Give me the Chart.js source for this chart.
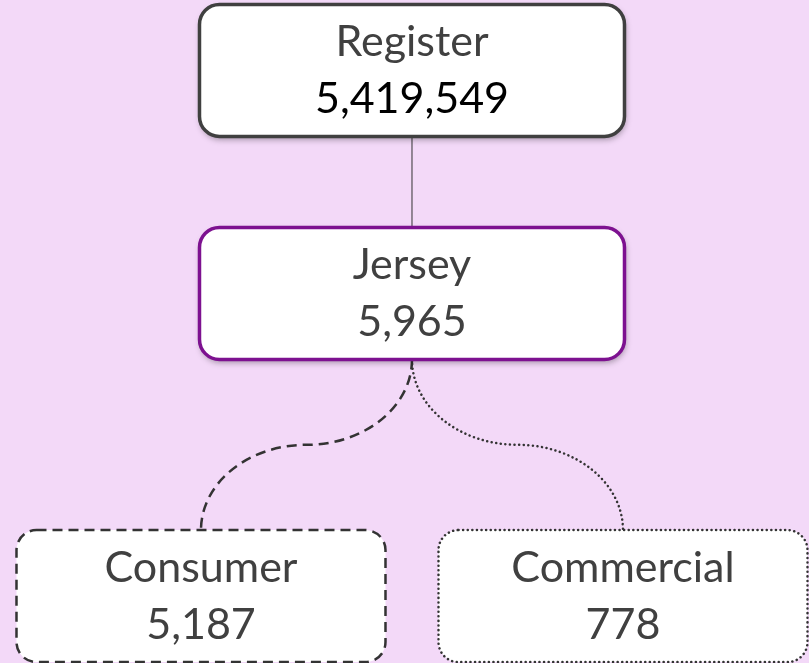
<!DOCTYPE html>
<html>
<head>
<meta charset="utf-8">
<script src="https://cdn.jsdelivr.net/npm/chart.js@4/dist/chart.umd.min.js"></script>
<style>
  html, body { margin: 0; padding: 0; background: #F3D9F8; }
  #wrap { width: 809px; height: 663px; }
</style>
</head>
<body>
<div id="wrap"><canvas id="tree" width="809" height="663"></canvas></div>
<script>
// tree data
const nodeNames = ['Register', 'Jersey', 'Consumer', 'Commercial'];
const nodeValues = [5419549, 5965, 5187, 778];
const nodeParents = [-1, 0, 1, 1];

// look of each node / link into it
const nodeBorder = ['#404040', '#7D1190', '#333333', '#333333'];
const nodeDash = [[], [], [10, 6], [0.1, 4.5]];
const nodeValueColor = ['#000000', '#404040', '#404040', '#404040'];
const rowPos = [0, 1, 2.357]; // spacing of levels on the y scale

// depth + x slot from the tree
function depthOf(i) { return nodeParents[i] < 0 ? 0 : depthOf(nodeParents[i]) + 1; }
const kids = nodeNames.map((_, i) => nodeParents.map((p, j) => p === i ? j : -1).filter(j => j >= 0));
let leafCount = 0;
const slot = [];
function place(i) {
  if (!kids[i].length) { slot[i] = leafCount++; return slot[i]; }
  const xs = kids[i].map(place);
  slot[i] = (xs[0] + xs[xs.length - 1]) / 2;
  return slot[i];
}
place(nodeParents.indexOf(-1));

const points = nodeNames.map((_, i) => ({ x: slot[i], y: rowPos[depthOf(i)] }));

function roundBox(ctx, x, y, w, h, r) {
  ctx.beginPath();
  ctx.moveTo(x + r, y);
  ctx.arcTo(x + w, y, x + w, y + h, r);
  ctx.arcTo(x + w, y + h, x, y + h, r);
  ctx.arcTo(x, y + h, x, y, r);
  ctx.arcTo(x, y, x + w, y, r);
  ctx.closePath();
}

const treePlugin = {
  id: 'treeBoxes',
  afterDatasetsDraw(chart) {
    const ctx = chart.ctx;
    const els = chart.getDatasetMeta(0).data;
    const boxW = d => d < 2 ? 425 : 369;
    const boxH = 132;
    const K = 0.5523;

    // links
    nodeParents.forEach((p, i) => {
      if (p < 0) return;
      const a = els[p], b = els[i];
      const x0 = a.x, y0 = a.y + boxH / 2;
      const x1 = b.x, y1 = b.y - boxH / 2;
      ctx.save();
      ctx.strokeStyle = '#333333';
      ctx.beginPath();
      ctx.moveTo(x0, y0);
      if (Math.abs(x1 - x0) < 1) {
        ctx.lineWidth = 1;
        ctx.lineTo(x1, y1);
      } else {
        const dotted = nodeDash[i][0] < 1;
        ctx.lineWidth = dotted ? 2.5 : 2.5;
        ctx.lineCap = dotted ? 'round' : 'butt';
        ctx.setLineDash(nodeDash[i]);
        const xm = (x0 + x1) / 2, ym = (y0 + y1) / 2;
        const ry = ym - y0;
        ctx.bezierCurveTo(x0, y0 + K * ry, xm + K * (x0 - xm), ym, xm, ym);
        ctx.bezierCurveTo(xm + K * (x1 - xm), ym, x1, y1 - K * ry, x1, y1);
      }
      ctx.stroke();
      ctx.restore();
    });

    // boxes
    els.forEach((el, i) => {
      const d = depthOf(i);
      const w = boxW(d);
      const x = el.x - w / 2, y = el.y - boxH / 2;
      ctx.save();
      roundBox(ctx, x, y, w, boxH, 20);
      if (d < 2) {
        ctx.shadowColor = 'rgba(0,0,0,0.35)';
        ctx.shadowBlur = 6;
        ctx.shadowOffsetX = 1;
        ctx.shadowOffsetY = 3;
      }
      ctx.fillStyle = '#FFFFFF';
      ctx.fill();
      ctx.shadowColor = 'transparent';
      ctx.strokeStyle = nodeBorder[i];
      const dotted = nodeDash[i].length && nodeDash[i][0] < 1;
      ctx.lineWidth = d < 2 ? 3.5 : 2.5;
      ctx.lineCap = dotted ? 'round' : 'butt';
      ctx.setLineDash(nodeDash[i]);
      ctx.stroke();
      ctx.restore();

      ctx.save();
      ctx.textAlign = 'center';
      ctx.textBaseline = 'alphabetic';
      ctx.font = '43px Lato, "Open Sans", sans-serif';
      ctx.fillStyle = '#404040';
      ctx.fillText(nodeNames[i], el.x, el.y - 14);
      ctx.fillStyle = nodeValueColor[i];
      ctx.fillText(nodeValues[i].toLocaleString('en-US'), el.x, el.y + 43);
      ctx.restore();
    });
  }
};

new Chart(document.getElementById('tree'), {
  type: 'scatter',
  data: {
    datasets: [{
      data: points,
      pointRadius: 0,
      pointHoverRadius: 0
    }]
  },
  options: {
    responsive: false,
    animation: false,
    events: [],
    layout: { padding: 0 },
    plugins: {
      legend: { display: false },
      tooltip: { enabled: false }
    },
    scales: {
      x: { type: 'linear', min: -0.4763, max: 1.4408, display: false },
      y: { type: 'linear', reverse: true, min: -0.316, max: 2.657, display: false }
    }
  },
  plugins: [treePlugin]
});
</script>
</body>
</html>
